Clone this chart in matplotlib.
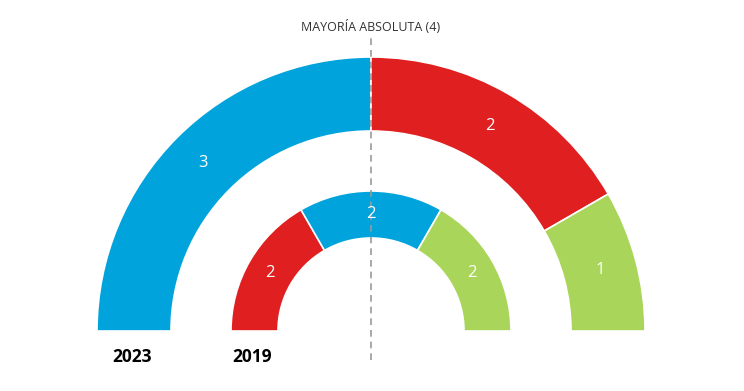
import numpy as np
import matplotlib.pyplot as plt
from matplotlib.patches import Wedge

# datos
colores = {'azul': '#00a3db', 'rojo': '#e02020', 'verde': '#a9d65a'}
escanos_2023 = [('azul', 3), ('rojo', 2), ('verde', 1)]
escanos_2019 = [('rojo', 2), ('azul', 2), ('verde', 2)]
mayoria = 4
anios = ['2023', '2019']

plt.rcParams['font.family'] = ['Open Sans', 'DejaVu Sans']

fig = plt.figure(figsize=(7.44, 3.91), dpi=100)
ax = fig.add_axes([0, 0, 1, 1])
ax.set_xlim(0, 744)
ax.set_ylim(0, 391)
ax.set_aspect('equal')
ax.axis('off')

cx, cy = 371, 60


def anillo(datos, r_in, r_out):
    total = sum(v for _, v in datos)
    ang = 180.0
    for p, v in datos:
        paso = 180.0 * v / total
        w = Wedge((cx, cy), r_out, ang - paso, ang, width=r_out - r_in,
                  facecolor=colores[p], edgecolor='white', linewidth=1.2)
        ax.add_patch(w)
        mid = np.deg2rad(ang - paso / 2)
        rm = (r_in + r_out) / 2
        ax.text(cx + rm * np.cos(mid), cy + rm * np.sin(mid), str(v),
                color='white', fontsize=12, ha='center', va='center')
        ang -= paso


anillo(escanos_2023, 200, 274)
anillo(escanos_2019, 93, 140)

ax.plot([cx, cx], [31, 353], color='#999999', linestyle=(0, (4, 3)), linewidth=1.2)
ax.text(cx, 364, f'MAYORÍA ABSOLUTA ({mayoria})', ha='center', va='center',
        fontsize=9, color='#333333')

ax.text(132, 34, anios[0], ha='center', va='center', fontsize=12.5, fontweight='bold', color='black')
ax.text(252, 34, anios[1], ha='center', va='center', fontsize=12.5, fontweight='bold', color='black')

fig.savefig('out.png', dpi=100)
